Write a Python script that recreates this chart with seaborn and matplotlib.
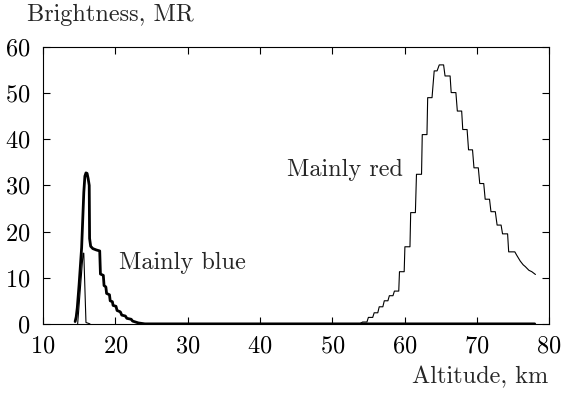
import pandas as pd
import matplotlib
matplotlib.use("Agg")
import matplotlib.pyplot as plt
import seaborn as sns

# DATA
red_alt = [24.0, 53.8, 54.2, 54.8, 55.0, 55.6, 55.8, 56.3, 56.5, 57.0, 57.2, 57.7,
           57.9, 58.4, 58.6, 59.2, 59.3, 59.95, 60.05, 60.75, 60.85, 61.5, 61.65,
           62.35, 62.45, 63.1, 63.2, 63.8, 64.1, 64.5, 64.8, 65.4, 65.6, 66.3,
           66.45, 67.1, 67.3, 67.9, 68.05, 68.65, 68.85, 69.4, 69.6, 70.2, 70.4,
           70.95, 71.15, 71.75, 71.95, 72.55, 72.8, 73.35, 73.55, 74.25, 74.4,
           75.25, 75.5, 76.0, 76.4, 76.7, 77.2, 77.6, 78.1]
red_val = [0, 0, 0.4, 0.4, 1.4, 1.4, 2.4, 2.4, 3.7, 3.7, 5.0, 5.0,
           6.1, 6.1, 7.1, 7.1, 11.3, 11.3, 16.7, 16.7, 24.1, 24.1, 32.4,
           32.4, 41.0, 41.0, 49.0, 49.0, 54.8, 54.8, 56.1, 56.1, 53.7, 53.7,
           50.1, 50.1, 46.1, 46.1, 42.1, 42.1, 37.7, 37.7, 33.8, 33.8, 30.4,
           30.4, 27.0, 27.0, 24.3, 24.3, 21.4, 21.4, 19.5, 19.5, 15.6,
           15.6, 14.9, 13.6, 12.8, 12.4, 11.6, 11.3, 10.7]

blue_alt = [14.45, 14.6, 14.75, 15.0, 15.35, 15.65, 15.8, 15.95, 16.1, 16.25, 16.4,
            16.45, 16.6, 16.9, 17.4, 17.85, 17.95, 18.35, 18.45, 18.7, 18.8, 19.2,
            19.3, 19.6, 19.7, 20.1, 20.25, 20.7, 20.9, 21.4, 21.6, 22.2, 22.4,
            23.2, 24.1, 78.0]
blue_val = [0.5, 1.5, 3.5, 8.5, 16.5, 28.5, 32.0, 32.7, 32.6, 31.5, 30.0,
            18.5, 16.8, 16.3, 16.0, 15.8, 10.8, 10.5, 8.3, 8.0, 6.6, 6.3,
            5.0, 4.8, 4.0, 3.8, 2.9, 2.6, 1.9, 1.7, 1.2, 1.0, 0.6,
            0.2, 0.0, 0.0]

spike_alt = [14.8, 15.55, 15.65, 15.95, 16.5]
spike_val = [0.0, 15.3, 15.3, 0.3, 0.0]

df_red = pd.DataFrame({"alt": red_alt, "val": red_val})
df_blue = pd.DataFrame({"alt": blue_alt, "val": blue_val})
df_spike = pd.DataFrame({"alt": spike_alt, "val": spike_val})

# STYLE
sns.set_style("ticks")
plt.rcParams["font.family"] = ["cmr10", "DejaVu Serif"]
plt.rcParams["mathtext.fontset"] = "cm"
plt.rcParams["axes.formatter.use_mathtext"] = True
plt.rcParams["axes.unicode_minus"] = False

fs = 17.5
fig = plt.figure(figsize=(5.65, 3.94), dpi=100)
ax = fig.add_axes([0.076, 0.178, 0.896, 0.703])

sns.lineplot(data=df_red, x="alt", y="val", sort=False, estimator=None,
             color="black", linewidth=0.8, ax=ax)
sns.lineplot(data=df_spike, x="alt", y="val", sort=False, estimator=None,
             color="black", linewidth=0.8, ax=ax)
sns.lineplot(data=df_blue, x="alt", y="val", sort=False, estimator=None,
             color="black", linewidth=2.0, ax=ax)

ax.set_xlim(10, 80)
ax.set_ylim(0, 60)
ax.set_xticks(range(10, 81, 10))
ax.set_yticks(range(0, 61, 10))
ax.tick_params(direction="in", length=5, width=0.8, top=True, right=True,
               labelsize=fs, colors="black")
ax.tick_params(axis="x", pad=8)
ax.tick_params(axis="y", pad=9)
for s in ax.spines.values():
    s.set_linewidth(0.8)
    s.set_color("black")
ax.set_xlabel("")
ax.set_ylabel("")

fig.text(0.048, 0.962, "Brightness, MR", fontsize=fs, ha="left", va="center")
fig.text(0.970, 0.043, "Altitude, km", fontsize=fs, ha="right", va="center")

ax.text(20.5, 13.2, "Mainly blue", fontsize=fs, ha="left", va="center")
ax.text(59.8, 33.3, "Mainly red", fontsize=fs, ha="right", va="center")

fig.savefig("out.png", dpi=100)
